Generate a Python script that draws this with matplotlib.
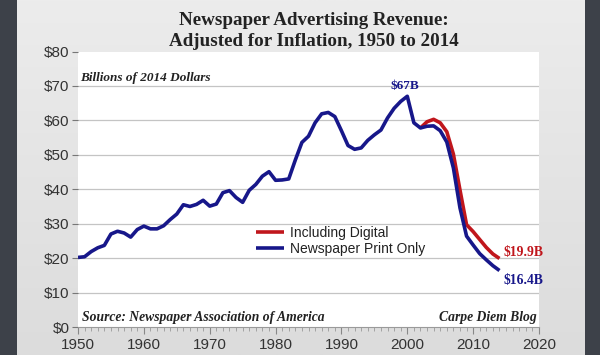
import matplotlib
matplotlib.use("Agg")
import matplotlib.pyplot as plt
from matplotlib.ticker import MultipleLocator, FuncFormatter
import numpy as np

# ---- data (billions of 2014 dollars) ----
print_years = list(range(1950, 2015))
print_only = [20.2, 20.4, 21.9, 23.0, 23.7, 27.0, 27.8, 27.3, 26.1, 28.3,
              29.3, 28.5, 28.5, 29.4, 31.2, 32.8, 35.5, 35.0, 35.6, 36.8,
              35.1, 35.7, 39.0, 39.6, 37.6, 36.2, 39.7, 41.4, 43.8, 45.1,
              42.6, 42.7, 43.0, 48.5, 53.6, 55.4, 59.3, 61.9, 62.3, 61.1,
              57.0, 52.7, 51.6, 52.0, 54.2, 55.8, 57.2, 60.7, 63.5, 65.5,
              67.0, 59.3, 57.8, 58.3, 58.4, 57.0, 53.7, 46.2, 34.6, 26.4,
              23.8, 21.3, 19.5, 17.8, 16.4]
digital_years = list(range(2002, 2015))
incl_digital = [57.8, 59.6, 60.3, 59.3, 56.7, 50.2, 39.8, 29.7, 27.7, 25.4,
                23.1, 21.2, 19.9]

yticks = [0, 10, 20, 30, 40, 50, 60, 70, 80]
xticks = [1950, 1960, 1970, 1980, 1990, 2000, 2010, 2020]

title_text = "Newspaper Advertising Revenue:\nAdjusted for Inflation, 1950 to 2014"
units_text = "Billions of 2014 Dollars"
source_text = "Source: Newspaper Association of America"
credit_text = "Carpe Diem Blog"
legend_labels = ["Including Digital", "Newspaper Print Only"]

BLUE = "#17178a"
RED = "#c0161c"
SERIF = ["Liberation Serif", "DejaVu Serif"]
SANS = ["Liberation Sans", "DejaVu Sans"]

fig = plt.figure(figsize=(6.0, 3.55), dpi=100)
fig.patch.set_facecolor("#3d4149")

# light panel with gentle vertical gradient
bg = fig.add_axes([17/600, 0, (585-17)/600, 1])
grad = np.linspace(0, 1, 256).reshape(-1, 1)
bg.imshow(grad, aspect="auto", cmap=matplotlib.colors.LinearSegmentedColormap.from_list(
    "g", ["#ececec", "#dcdcdc"]), extent=[0, 1, 0, 1], origin="upper")
bg.set_axis_off()

ax = fig.add_axes([78/600, 28/355, (539-78)/600, (327-51.5)/355])
ax.set_facecolor("white")
ax.set_xlim(1950, 2020)
ax.set_ylim(0, 80)

ax.set_yticks(yticks)
ax.yaxis.set_major_formatter(FuncFormatter(lambda v, p: f"${int(v)}"))
ax.set_xticks(xticks)
ax.xaxis.set_minor_locator(MultipleLocator(1))
for t in yticks[1:-1]:
    ax.axhline(t, color="#c4c4c4", lw=0.9, zorder=1)

for s in ["top", "right", "left"]:
    ax.spines[s].set_visible(False)
ax.spines["bottom"].set_color("#9a9a9a")
ax.spines["bottom"].set_linewidth(0.8)
ax.tick_params(axis="y", direction="out", length=4, width=0.8, color="#777777",
               labelsize=11, labelcolor="#333333", pad=2)
ax.tick_params(axis="x", which="major", direction="out", length=5, width=0.8,
               color="#888888", labelsize=11, labelcolor="#333333", pad=3)
ax.tick_params(axis="x", which="minor", direction="out", length=3, width=0.6,
               color="#999999")
for lab in ax.get_xticklabels() + ax.get_yticklabels():
    lab.set_family(SANS)

ax.plot(digital_years, incl_digital, color=RED, lw=2.6, solid_capstyle="butt",
        zorder=3, label=legend_labels[0])
ax.plot(print_years, print_only, color=BLUE, lw=2.6, solid_capstyle="butt",
        zorder=4, label=legend_labels[1])

leg = ax.legend(loc="upper left", bbox_to_anchor=(0.372, 0.392), frameon=False,
                prop={"family": SANS, "size": 10}, handlelength=2.0,
                handletextpad=0.4, labelspacing=0.12, borderpad=0)
for t in leg.get_texts():
    t.set_color("#222222")

fig.text(314/600, 1 - 31/355, title_text, ha="center", va="center",
         family=SERIF, fontweight="bold", fontsize=13.7, color="#222222",
         linespacing=1.35)
fig.text(80/600, 1 - 78/355, units_text, ha="left", va="center", family=SERIF,
         fontweight="bold", style="italic", fontsize=9.5, color="#222222")
fig.text(82/600, 1 - 317/355, source_text, ha="left", va="center", family=SERIF,
         fontweight="bold", style="italic", fontsize=9.8, color="#222222")
fig.text(537/600, 1 - 317/355, credit_text, ha="right", va="center", family=SERIF,
         fontweight="bold", style="italic", fontsize=9.8, color="#222222")

ax.annotate("$67B", (2000, 67), xytext=(-2, 3), textcoords="offset points",
            ha="center", va="bottom", family=SERIF, fontweight="bold",
            fontsize=9.5, color=BLUE)
ax.annotate("$19.9B", (digital_years[-1], incl_digital[-1]), xytext=(3, 4),
            textcoords="offset points", ha="left", va="center", family=SERIF,
            fontweight="bold", fontsize=9.8, color=RED)
ax.annotate("$16.4B", (print_years[-1], print_only[-1]), xytext=(3, -7),
            textcoords="offset points", ha="left", va="center", family=SERIF,
            fontweight="bold", fontsize=9.8, color=BLUE)

fig.savefig("out.png", dpi=100)
